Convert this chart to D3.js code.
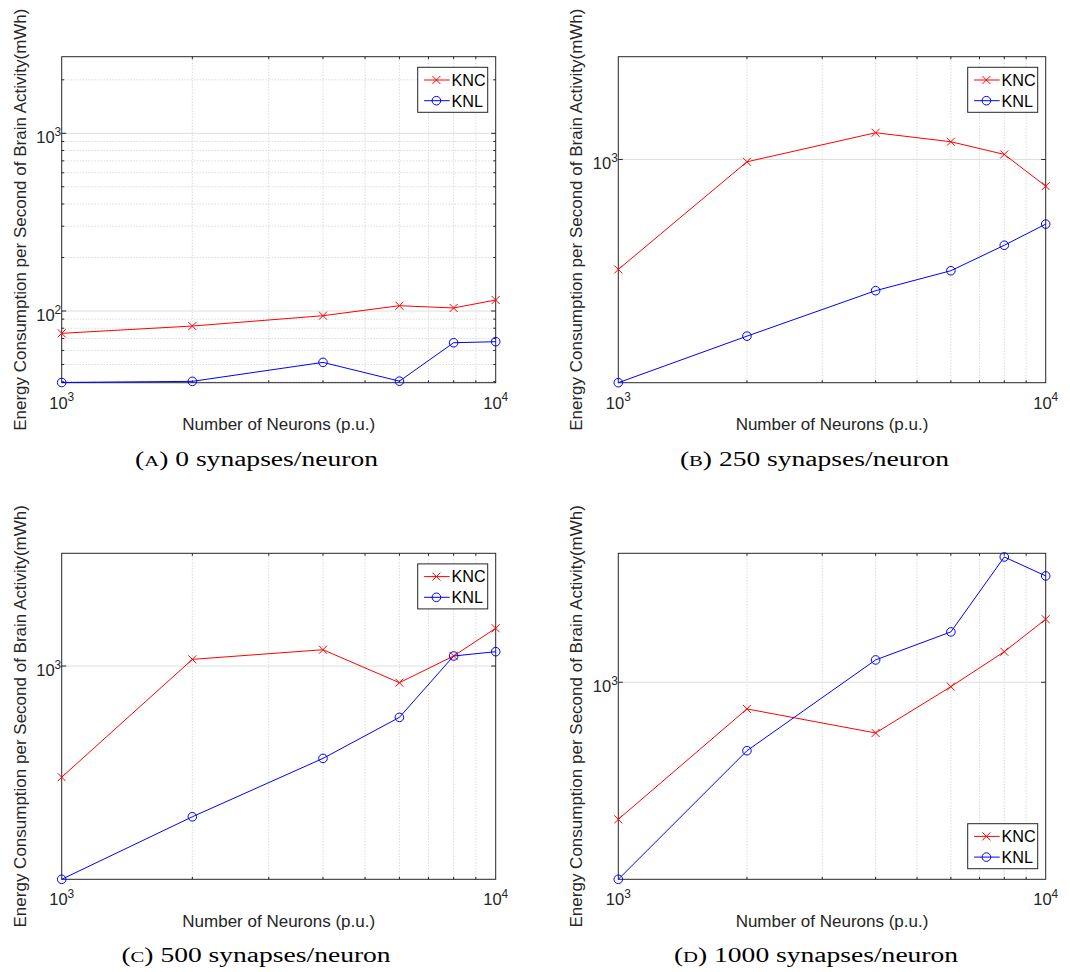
<!DOCTYPE html>
<html><head><meta charset="utf-8">
<script src="https://cdn.jsdelivr.net/npm/d3@7"></script>
<style>body{margin:0;background:#fff} svg{display:block}</style>
</head><body>
<svg id="chart" width="1070" height="972"></svg>
<script>
// ---------------- data ----------------
const neurons = [1000, 2000, 4000, 6000, 8000, 10000];
const seriesNames = ["KNC", "KNL"];
const kncA = [74.9, 82.3, 94.1, 107.1, 104.0, 115.3];
const knlA = [39.6, 40.2, 51.4, 40.3, 66.3, 67.2];
const kncB = [492, 985, 1188, 1121, 1033, 842];
const knlB = [237, 320, 429, 488, 575, 659];
const kncC = [488, 1044, 1111, 898, 1067, 1276];
const knlC = [252.5, 378, 551, 718, 1067, 1097];
const kncD = [413, 842, 721, 972, 1218, 1502];
const knlD = [280.5, 643, 1155, 1384, 2244, 1986];
const captionLetters = ["A", "B", "C", "D"];
const captionTexts = ["0 synapses/neuron", "250 synapses/neuron", "500 synapses/neuron", "1000 synapses/neuron"];
const xTickValues = [1000, 10000];
const xTickLabels = [["10", "3"], ["10", "4"]];
const yTickValuesA = [100, 1000];
const yTickLabelsA = [["10", "2"], ["10", "3"]];
const yTickValuesBCD = [1000];
const yTickLabelsBCD = [["10", "3"]];
const xLabel = "Number of Neurons (p.u.)";
const yLabel = "Energy Consumption per Second of Brain Activity(mWh)";

// ---------------- layout ----------------
const panels = [
  {knc: kncA, knl: knlA, yDom: [39.5, 2698], ticks: yTickValuesA, tickLabels: yTickLabelsA, minorY: true,
   x0: 61.7, x1: 495.7, y0: 56.7, y1: 382.7, ylx: 25.5, capX: 256.5, capY: 466, legend: "top"},
  {knc: kncB, knl: knlB, yDom: [237, 1940], ticks: yTickValuesBCD, tickLabels: yTickLabelsBCD, minorY: false,
   x0: 618.3, x1: 1045.7, y0: 56.7, y1: 382.7, ylx: 582, capX: 814.5, capY: 466, legend: "top"},
  {knc: kncC, knl: knlC, yDom: [252.5, 2070], ticks: yTickValuesBCD, tickLabels: yTickLabelsBCD, minorY: false,
   x0: 61.7, x1: 495.7, y0: 553.3, y1: 879.3, ylx: 25.5, capX: 256, capY: 962, legend: "top"},
  {knc: kncD, knl: knlD, yDom: [280.5, 2298], ticks: yTickValuesBCD, tickLabels: yTickLabelsBCD, minorY: false,
   x0: 618.3, x1: 1045.7, y0: 553.3, y1: 879.3, ylx: 582, capX: 816, capY: 962, legend: "bottom"}
];

const AX = "#262626", GRID = "#dedede", MGRID = "#c4c4c4";
const FONT = "'Liberation Sans', Arial, Helvetica, sans-serif";
const SERIF = "'Liberation Serif', 'Times New Roman', serif";
const svg = d3.select("#chart");

function minorTicks(dom) {
  const out = [];
  const lo = Math.floor(Math.log10(dom[0])), hi = Math.ceil(Math.log10(dom[1]));
  for (let d = lo; d <= hi; d++) for (let m = 2; m <= 9; m++) {
    const v = m * Math.pow(10, d);
    if (v > dom[0] && v < dom[1]) out.push(v);
  }
  return out;
}

function supText(sel, parts, size) {
  sel.append("tspan").text(parts[0]);
  sel.append("tspan").attr("font-size", size * 0.72).attr("dy", -size * 0.45).text(parts[1]);
}

panels.forEach((p, i) => {
  const x = d3.scaleLog().domain([1000, 10000]).range([p.x0, p.x1]);
  const y = d3.scaleLog().domain(p.yDom).range([p.y1, p.y0]);
  const g = svg.append("g");

  // minor grid
  const xm = minorTicks(x.domain()), ym = p.minorY ? minorTicks(y.domain()) : [];
  g.selectAll(null).data(xm).join("line")
    .attr("x1", d => x(d)).attr("x2", d => x(d)).attr("y1", p.y0).attr("y2", p.y1)
    .attr("stroke", MGRID).attr("stroke-width", 0.9).attr("stroke-dasharray", "1,2");
  g.selectAll(null).data(ym).join("line")
    .attr("y1", d => y(d)).attr("y2", d => y(d)).attr("x1", p.x0).attr("x2", p.x1)
    .attr("stroke", MGRID).attr("stroke-width", 0.9).attr("stroke-dasharray", "1,2");
  // major grid
  g.selectAll(null).data(p.ticks).join("line")
    .attr("y1", d => y(d)).attr("y2", d => y(d)).attr("x1", p.x0).attr("x2", p.x1)
    .attr("stroke", GRID).attr("stroke-width", 1);

  // box
  g.append("rect").attr("x", p.x0).attr("y", p.y0).attr("width", p.x1 - p.x0).attr("height", p.y1 - p.y0)
    .attr("fill", "none").attr("stroke", AX).attr("stroke-width", 1);

  // ticks (inward, all 4 sides)
  const tk = (arr, len, axis) => {
    arr.forEach(v => {
      if (axis === "x") {
        const xx = x(v);
        g.append("line").attr("x1", xx).attr("x2", xx).attr("y1", p.y1).attr("y2", p.y1 - len).attr("stroke", AX);
        g.append("line").attr("x1", xx).attr("x2", xx).attr("y1", p.y0).attr("y2", p.y0 + len).attr("stroke", AX);
      } else {
        const yy = y(v);
        g.append("line").attr("y1", yy).attr("y2", yy).attr("x1", p.x0).attr("x2", p.x0 + len).attr("stroke", AX);
        g.append("line").attr("y1", yy).attr("y2", yy).attr("x1", p.x1).attr("x2", p.x1 - len).attr("stroke", AX);
      }
    });
  };
  tk(xm, 2.5, "x"); tk(ym, 2.5, "y"); tk(p.ticks, 4.5, "y");

  // x tick labels
  xTickValues.forEach((v, k) => {
    const t = g.append("text").attr("x", x(v)).attr("y", p.y1 + 26).attr("text-anchor", "middle")
      .attr("font-family", FONT).attr("font-size", 16.5).attr("fill", AX);
    supText(t, xTickLabels[k], 16.5);
  });
  // y tick labels
  p.ticks.forEach((v, k) => {
    const t = g.append("text").attr("x", p.x0 - 0.5).attr("y", y(v) + 10).attr("text-anchor", "end")
      .attr("font-family", FONT).attr("font-size", 16.5).attr("fill", AX);
    supText(t, p.tickLabels[k], 16.5);
  });

  // axis labels
  g.append("text").attr("x", (p.x0 + p.x1) / 2).attr("y", p.y1 + 47.3).attr("text-anchor", "middle")
    .attr("font-family", FONT).attr("font-size", 17).attr("fill", AX).text(xLabel);
  g.append("text").attr("transform", `translate(${p.ylx},${(p.y0 + p.y1) / 2}) rotate(-90)`)
    .attr("text-anchor", "middle").attr("font-family", FONT).attr("font-size", 17).attr("fill", AX).text(yLabel);

  // series
  const line = d3.line().x((d, k) => x(neurons[k])).y(d => y(d));
  g.append("path").datum(p.knc).attr("d", line).attr("fill", "none").attr("stroke", "#ff0000").attr("stroke-width", 1);
  g.append("path").datum(p.knl).attr("d", line).attr("fill", "none").attr("stroke", "#0000ff").attr("stroke-width", 1);
  const cross = (sel, cx, cy, s) => {
    sel.append("path").attr("d", `M${cx - s},${cy - s}L${cx + s},${cy + s}M${cx - s},${cy + s}L${cx + s},${cy - s}`)
      .attr("stroke", "#ff0000").attr("stroke-width", 1).attr("fill", "none");
  };
  p.knc.forEach((d, k) => cross(g, x(neurons[k]), y(d), 4));
  g.selectAll(null).data(p.knl).join("circle")
    .attr("cx", (d, k) => x(neurons[k])).attr("cy", d => y(d)).attr("r", 4.3)
    .attr("fill", "none").attr("stroke", "#0000ff").attr("stroke-width", 1);

  // legend
  const lw = 70, lh = 45;
  const lx = p.x1 - 8 - lw;
  const ly = p.legend === "top" ? p.y0 + 10.6 : p.y1 - 10.6 - lh;
  const lg = g.append("g").attr("transform", `translate(${lx},${ly})`);
  lg.append("rect").attr("width", lw).attr("height", lh).attr("fill", "#fff").attr("stroke", AX).attr("stroke-width", 1);
  seriesNames.forEach((n, k) => {
    const ry = 12.7 + k * 20.7;
    const col = k === 0 ? "#ff0000" : "#0000ff";
    lg.append("line").attr("x1", 6.4).attr("x2", 32).attr("y1", ry).attr("y2", ry).attr("stroke", col);
    if (k === 0) cross(lg, 18.7, ry, 4);
    else lg.append("circle").attr("cx", 18.7).attr("cy", ry).attr("r", 4.3).attr("fill", "none").attr("stroke", col);
    lg.append("text").attr("x", 33.8).attr("y", ry + 5.9).attr("font-family", FONT).attr("font-size", 16.2)
      .attr("fill", "#000").text(n);
  });

  // caption
  const cap = svg.append("text").attr("font-family", SERIF).attr("font-size", 20).attr("fill", "#000")
    .attr("text-anchor", "middle");
  cap.append("tspan").text("(");
  cap.append("tspan").attr("font-size", 15).text(captionLetters[i]);
  cap.append("tspan").text(") " + captionTexts[i]);
  p.capNode = cap;
});

// stretch captions horizontally to match the reference width of caption A (~243px)
const natA = panels[0].capNode.node().getComputedTextLength();
const kx = 243 / natA;
panels.forEach(p => p.capNode.attr("transform", `translate(${p.capX},${p.capY}) scale(${kx},1)`));
</script>
</body></html>
